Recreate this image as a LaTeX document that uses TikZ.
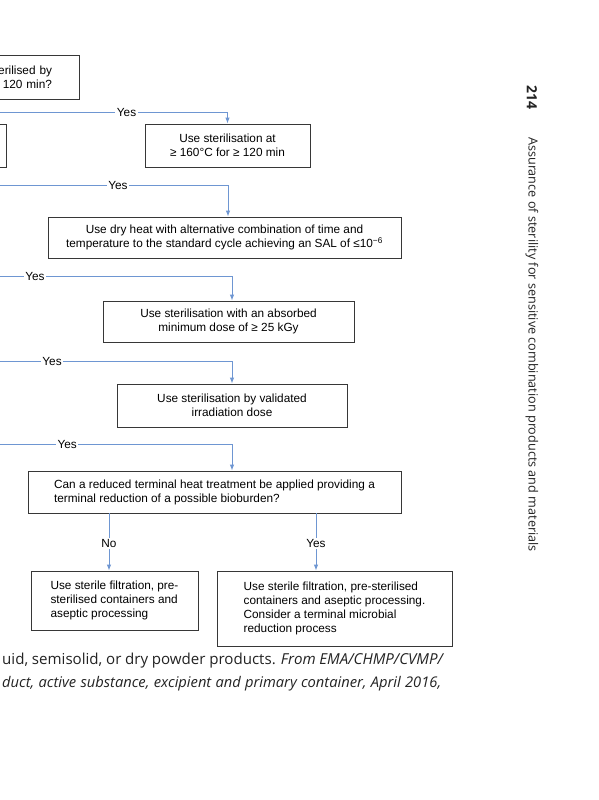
\documentclass[tikz,border=0pt]{standalone}
\usepackage{fontspec}
\usepackage{xcolor}
\usepackage{tikz}
\usetikzlibrary{arrows.meta, positioning}
\newfontfamily\diagfont{Liberation Sans}
\newfontfamily\capfont{Open Sans}
\definecolor{FlowBlue}{RGB}{110, 150, 210}
\definecolor{BoxBorder}{RGB}{55, 55, 55}
\definecolor{PageText}{RGB}{35, 35, 35}

\tikzset{
  stepbox/.style={draw=BoxBorder, line width=0.9pt, fill=white, inner sep=0pt,
    align=center, font=\fontsize{11.8}{14}\selectfont\diagfont},
  askbox/.style={stepbox, align=left},
  flow/.style={draw=FlowBlue, line width=0.9pt, -{Latex[length=6pt,width=4.5pt]}},
  flowlabel/.style={fill=white, inner sep=1.5pt, font=\fontsize{11.8}{14}\selectfont\diagfont},
  captionline/.style={anchor=base west, inner sep=0pt, text=PageText}
}

\begin{document}
\begin{tikzpicture}[x=1pt, y=-1pt]
    \useasboundingbox (0,0) rectangle (599,800);
    \fill[white] (0,0) rectangle (599,800);
    \clip (0,0) rectangle (599,800);

    \node[stepbox, minimum width=230pt, minimum height=44pt, text width=176pt, align=right]
      (dryheatq) at (-36,77) {erilised by\\120 min?};
    \node[stepbox, minimum width=106pt, minimum height=43pt] (altq) at (-47,145.5) {};

    \node[stepbox, minimum width=165pt, minimum height=43pt] (standard) at (227.5,145.5)
      {Use sterilisation at\\≥ 160°C for ≥ 120 min};
    \node[stepbox, minimum width=353pt, minimum height=41pt] (altcycle) at (224.5,237.5)
      {Use dry heat with alternative combination of time and\\temperature to the standard cycle achieving an SAL of ≤10\textsuperscript{−6}};
    \node[stepbox, minimum width=251pt, minimum height=41pt] (absorbed) at (228.5,321.5)
      {Use sterilisation with an absorbed\\minimum dose of ≥ 25 kGy};
    \node[stepbox, minimum width=230pt, minimum height=43pt] (validated) at (232,405.5)
      {Use sterilisation by validated\\irradiation dose};
    \node[askbox, minimum width=373pt, minimum height=42pt] (reducedq) at (214.5,492)
      {Can a reduced terminal heat treatment be applied providing a\\terminal reduction of a possible bioburden?};
    \node[askbox, minimum width=167pt, minimum height=59pt] (aseptic) at (114.5,600.5)
      {Use sterile filtration, pre-\\sterilised containers and\\aseptic processing};
    \node[askbox, minimum width=235pt, minimum height=75pt] (asepticred) at (334.5,608.5)
      {Use sterile filtration, pre-sterilised\\containers and aseptic processing.\\Consider a terminal microbial\\reduction process};

    \coordinate (yesA) at (-20,112);
    \coordinate (yesB) at (-20,185);
    \coordinate (yesC) at (-20,276);
    \coordinate (yesD) at (-20,361);
    \coordinate (yesE) at (-20,444);

    \draw[flow] (yesA) -| node[flowlabel, pos=0.296] {Yes} (standard);
    \draw[flow] (yesB) -| node[flowlabel, pos=0.278] {Yes} (228,0 |- altcycle.north);
    \draw[flow] (yesC) -| node[flowlabel, pos=0.109] {Yes} (232,0 |- absorbed.north);
    \draw[flow] (yesD) -| node[flowlabel, pos=0.143] {Yes} (validated);
    \draw[flow] (yesE) -| node[flowlabel, pos=0.173] {Yes} (232,0 |- reducedq.north);
    \draw[flow] (109,0 |- reducedq.south) -- node[flowlabel, pos=0.53] {No} (109,0 |- aseptic.north);
    \draw[flow] (316,0 |- reducedq.south) -- node[flowlabel, pos=0.52] {Yes} (316,0 |- asepticred.north);

    \node[captionline, font=\fontsize{15.1}{18}\selectfont\capfont] (capA) at (2,664)
      {\makebox[442pt][s]{uid, semisolid, or dry powder products. \textit{From EMA/CHMP/CVMP/}}};
    \node[captionline, font=\fontsize{14.7}{18}\selectfont\capfont] (capB) at (2,687)
      {\makebox[439pt][s]{\textit{duct, active substance, excipient and primary container, April 2016,}}};

    \node[rotate=-90, inner sep=0pt, text=PageText, font=\fontsize{14}{16}\selectfont\capfont\bfseries]
      (pageno) at (532,97) {214};
    \node[rotate=-90, anchor=west, inner sep=0pt, text=PageText, font=\fontsize{12.65}{15}\selectfont\capfont]
      (runhead) at (532,137) {Assurance of sterility for sensitive combination products and materials};
  \end{tikzpicture}
\end{document}
